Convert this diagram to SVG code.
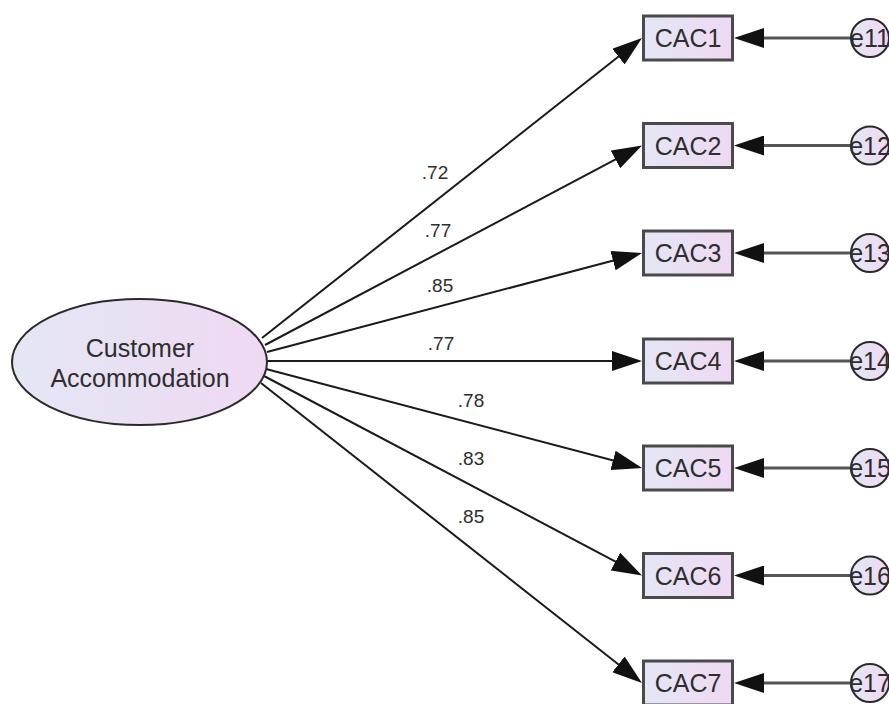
<svg xmlns="http://www.w3.org/2000/svg" width="889" height="704" viewBox="0 0 889 704">
  <defs>
    <linearGradient id="fillGrad" x1="0" y1="0" x2="1" y2="0">
      <stop offset="0" stop-color="#e4e6f5"/>
      <stop offset="1" stop-color="#efd9f2"/>
    </linearGradient>
    <marker id="head" viewBox="0 0 30 20" refX="22" refY="10" markerWidth="30" markerHeight="20" markerUnits="userSpaceOnUse" orient="auto">
      <path d="M0,0 L30,10 L0,20 Z" fill="#111"/>
    </marker>
    <style>
      .lbl { font-family: "Liberation Sans", Arial, sans-serif; font-size: 25px; fill: #2e2e2e; text-anchor: middle; }
      .coef { font-family: "Liberation Sans", Arial, sans-serif; font-size: 19px; fill: #2e2e2e; text-anchor: middle; }
      .latent { fill: url(#fillGrad); stroke: #2a2a2a; stroke-width: 2; }
      .obs { fill: url(#fillGrad); stroke: #4a4a4a; stroke-width: 3; }
      .err { fill: url(#fillGrad); stroke: #2a2a2a; stroke-width: 2; }
      .path { stroke: #1a1a1a; stroke-width: 2; fill: none; marker-end: url(#head); }
      .epath { stroke: #555; stroke-width: 3; fill: none; marker-end: url(#head); }
    </style>
  </defs>
  <rect width="889" height="704" fill="#ffffff"/>

  <!-- connectors: loadings and error terms -->
  <g id="connectors">
    <line class="path" x1="262" y1="338" x2="635.7" y2="43.0"/>
    <line class="path" x1="265" y1="345" x2="634.9" y2="149.2"/>
    <line class="path" x1="267" y1="352" x2="634.3" y2="255.0"/>
    <line class="path" x1="267" y1="361" x2="634" y2="361"/>
    <line class="path" x1="266" y1="369" x2="634.3" y2="466.0"/>
    <line class="path" x1="264" y1="376" x2="634.9" y2="571.8"/>
    <line class="path" x1="261" y1="383" x2="635.7" y2="678.0"/>

    <line class="epath" x1="851" y1="38" x2="742" y2="38"/>
    <line class="epath" x1="851" y1="145.5" x2="742" y2="145.5"/>
    <line class="epath" x1="851" y1="253" x2="742" y2="253"/>
    <line class="epath" x1="851" y1="361" x2="742" y2="361"/>
    <line class="epath" x1="851" y1="468" x2="742" y2="468"/>
    <line class="epath" x1="851" y1="575.5" x2="742" y2="575.5"/>
    <line class="epath" x1="851" y1="683" x2="742" y2="683"/>

    <text class="coef" x="435" y="179">.72</text>
    <text class="coef" x="438" y="237">.77</text>
    <text class="coef" x="440" y="292">.85</text>
    <text class="coef" x="441" y="350">.77</text>
    <text class="coef" x="471" y="407">.78</text>
    <text class="coef" x="471" y="465">.83</text>
    <text class="coef" x="471" y="523">.85</text>
  </g>

  <!-- latent factor -->
  <g id="customer-accommodation">
    <ellipse class="latent" cx="139.5" cy="362" rx="127.5" ry="63"/>
    <text class="lbl" x="140" y="357">Customer</text>
    <text class="lbl" x="140" y="387">Accommodation</text>
  </g>

  <!-- observed indicators -->
  <g id="CAC1"><rect class="obs" x="643.5" y="16" width="89" height="44"/><text class="lbl" x="688" y="47">CAC1</text></g>
  <g id="CAC2"><rect class="obs" x="643.5" y="123.5" width="89" height="44"/><text class="lbl" x="688" y="154.5">CAC2</text></g>
  <g id="CAC3"><rect class="obs" x="643.5" y="231" width="89" height="44"/><text class="lbl" x="688" y="262">CAC3</text></g>
  <g id="CAC4"><rect class="obs" x="643.5" y="339" width="89" height="44"/><text class="lbl" x="688" y="370">CAC4</text></g>
  <g id="CAC5"><rect class="obs" x="643.5" y="446" width="89" height="44"/><text class="lbl" x="688" y="477">CAC5</text></g>
  <g id="CAC6"><rect class="obs" x="643.5" y="553.5" width="89" height="44"/><text class="lbl" x="688" y="584.5">CAC6</text></g>
  <g id="CAC7"><rect class="obs" x="643.5" y="661" width="89" height="44"/><text class="lbl" x="688" y="692">CAC7</text></g>

  <!-- error terms -->
  <g id="e11"><circle class="err" cx="870" cy="38" r="19"/><text class="lbl" x="870" y="47">e11</text></g>
  <g id="e12"><circle class="err" cx="870" cy="145.5" r="19"/><text class="lbl" x="870" y="154.5">e12</text></g>
  <g id="e13"><circle class="err" cx="870" cy="253" r="19"/><text class="lbl" x="870" y="262">e13</text></g>
  <g id="e14"><circle class="err" cx="870" cy="361" r="19"/><text class="lbl" x="870" y="370">e14</text></g>
  <g id="e15"><circle class="err" cx="870" cy="468" r="19"/><text class="lbl" x="870" y="477">e15</text></g>
  <g id="e16"><circle class="err" cx="870" cy="575.5" r="19"/><text class="lbl" x="870" y="584.5">e16</text></g>
  <g id="e17"><circle class="err" cx="870" cy="683" r="19"/><text class="lbl" x="870" y="692">e17</text></g>
</svg>
